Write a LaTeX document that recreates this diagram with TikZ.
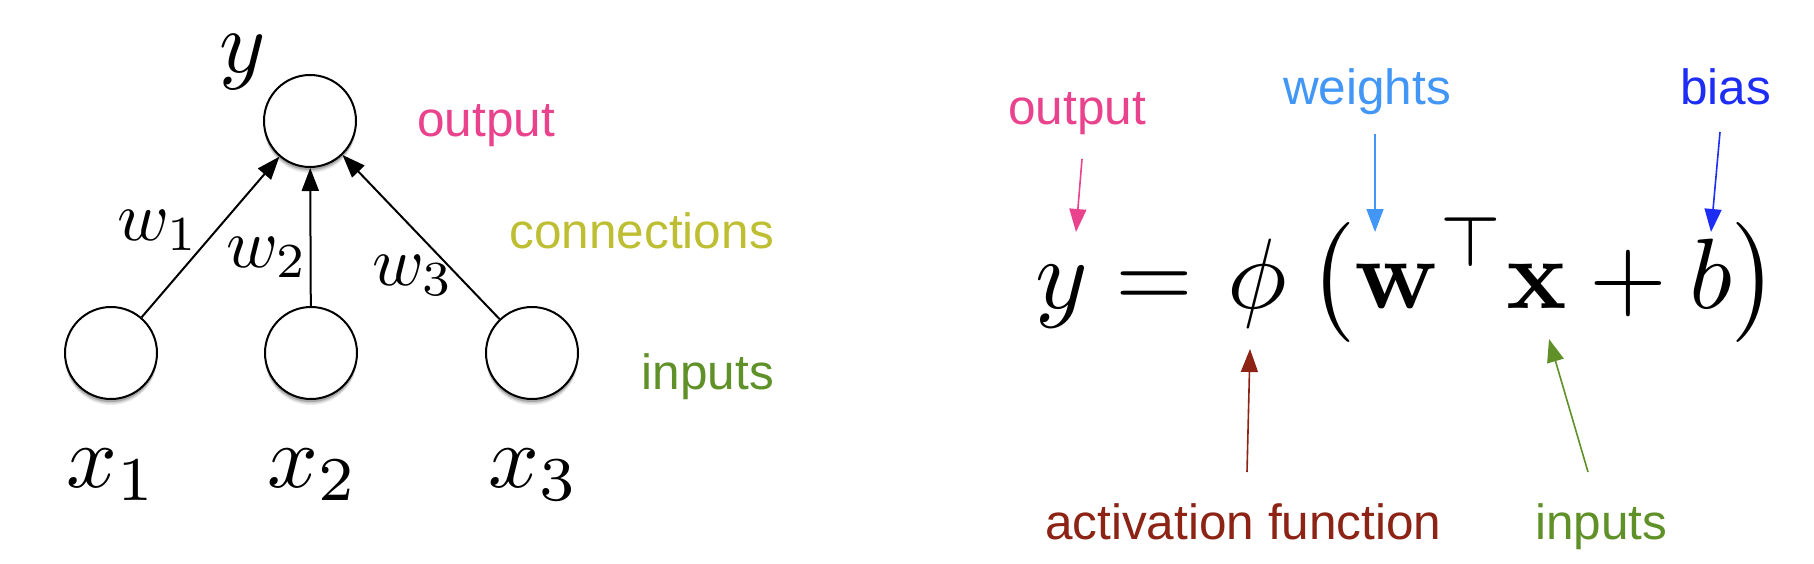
\documentclass[tikz,border=0pt]{standalone}
\usepackage[no-math]{fontspec}
\newfontfamily\labfont{Liberation Sans}
\usetikzlibrary{arrows.meta,shadows}
\definecolor{cOut}{RGB}{234,67,142}
\definecolor{cConn}{RGB}{190,190,50}
\definecolor{cIn}{RGB}{95,145,40}
\definecolor{cW}{RGB}{66,150,245}
\definecolor{cB}{RGB}{30,45,245}
\definecolor{cAct}{RGB}{140,35,20}
\begin{document}
\begin{tikzpicture}[x=1pt,y=-1pt,
  neuron/.style={circle, draw=black, line width=2pt, fill=white, minimum size=92pt, inner sep=0pt,
     general shadow={shadow xshift=0pt, shadow yshift=-6pt, opacity=0.08, fill=black},
     general shadow={shadow xshift=0pt, shadow yshift=-4.5pt, opacity=0.12, fill=black},
     general shadow={shadow xshift=0pt, shadow yshift=-3pt, opacity=0.18, fill=black}},
  conn/.style={-{Triangle[length=23pt,width=17pt]}, line width=2pt},
  pointer/.style={-{Triangle[length=23pt,width=17pt]}, line width=1.6pt},
  lab/.style={font=\labfont\fontsize{49.5}{56}\selectfont, inner sep=0pt, anchor=base west},
  labr/.style={lab, anchor=base east},
  mlab/.style={inner sep=0pt, anchor=base}
]
\useasboundingbox (0,0) rectangle (1814,564);
\fill[white] (0,0) rectangle (1814,564);

% left network
\node[neuron] (o) at (310,121) {};
\node[neuron] (i1) at (111,353) {};
\node[neuron] (i2) at (311,353) {};
\node[neuron] (i3) at (532,353) {};
\draw[conn] (i1) -- (o);
\draw[conn] (i2) -- (o);
\draw[conn] (i3) -- (o);

\node[mlab] (ly) at (243,73) {\scalebox{8.8}{$y$}};
\node[mlab] (lw1) at (158,240) {\scalebox{7}{$w_1$}};
\node[mlab] (lw2) at (267,267) {\scalebox{7}{$w_2$}};
\node[mlab] (lw3) at (413,285) {\scalebox{7}{$w_3$}};
\node[mlab] (lx1) at (112,487) {\scalebox{8.9}{$x_1$}};
\node[mlab] (lx2) at (313,487) {\scalebox{8.9}{$x_2$}};
\node[mlab] (lx3) at (534,487) {\scalebox{8.9}{$x_3$}};

\node[lab, text=cOut] (tout) at (417,137) {output};
\node[labr, text=cConn] (tconn) at (774,248) {connections};
\node[labr, text=cIn] (tin) at (774,389) {inputs};

% right equation
\node[mlab] (eq) at (1407,308) {\scalebox{10}{$\displaystyle y=\mkern1mu\phi\mkern1mu\left(\mathbf{w}^\top\mathbf{x}+b\right)$}};

\node[lab, text=cOut] (rout) at (1008,125) {output};
\node[lab, text=cW] (rw) at (1283,105) {weights};
\node[lab, text=cB] (rb) at (1680,105) {bias};
\node[lab, text=cAct] (ract) at (1045,539) {activation function};
\node[lab, text=cIn] (rin) at (1535,539) {inputs};

\coordinate (sOut) at (1082,159);
\coordinate (eOut) at (1076,232);
\coordinate (sW) at (1375,134);
\coordinate (eW) at (1375,232);
\coordinate (sB) at (1720,132);
\coordinate (eB) at (1711,232);
\coordinate (sAct) at (1247,472);
\coordinate (eAct) at (1250,349);
\coordinate (sIn) at (1588,472);
\coordinate (eIn) at (1549,339);

\draw[pointer, draw=cOut, fill=cOut] (sOut) -- (eOut);
\draw[pointer, draw=cW, fill=cW] (sW) -- (eW);
\draw[pointer, draw=cB, fill=cB] (sB) -- (eB);
\draw[pointer, draw=cAct, fill=cAct] (sAct) -- (eAct);
\draw[pointer, draw=cIn, fill=cIn] (sIn) -- (eIn);
\end{tikzpicture}
\end{document}
